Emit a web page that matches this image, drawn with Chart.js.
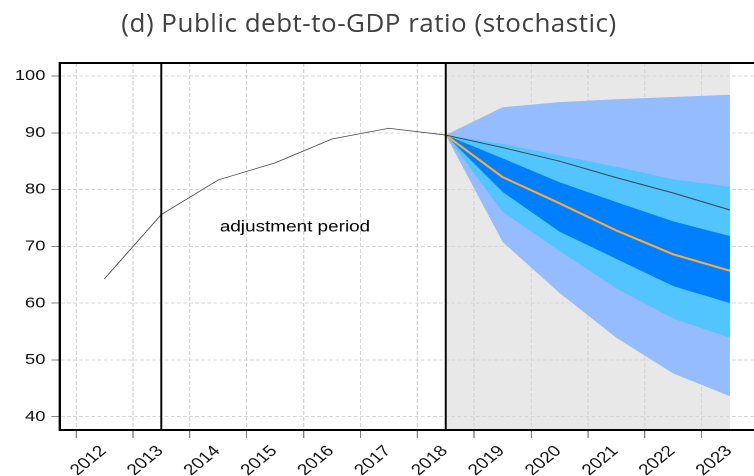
<!DOCTYPE html>
<html>
<head>
<meta charset="utf-8">
<title>Public debt-to-GDP ratio (stochastic)</title>
<script src="https://cdn.jsdelivr.net/npm/chart.js@4.4.1/dist/chart.umd.min.js"></script>
<style>
  html, body { margin: 0; padding: 0; background: #fff; overflow: hidden; }
  #page { position: relative; width: 754px; height: 476px; }
  #title {
    position: absolute; left: 0; top: 7px; width: 738px;
    font: 26px/30px "Open Sans", sans-serif; color: #404040; letter-spacing: 0.5px;
    text-align: center; white-space: nowrap; z-index: 2;
  }
  /* the plot is drawn narrow and stretched sideways, like the exported original */
  #wrap { position: absolute; left: 0; top: 0; width: 619px; height: 476px; transform: scale(1.22, 1); transform-origin: 0 0; }
</style>
</head>
<body>
<div id="page">
  <div id="wrap"><canvas id="debtChart"></canvas></div>
  <div id="title">(d) Public debt-to-GDP ratio (stochastic)</div>
</div>
<script>
// axis ticks
const years = [2012, 2013, 2014, 2015, 2016, 2017, 2018, 2019, 2020, 2021, 2022, 2023];
const yTicks = [40, 50, 60, 70, 80, 90, 100];

// observed debt ratio, % of GDP (mid-year points)
const histYears = [2012.5, 2013.5, 2014.5, 2015.5, 2016.5, 2017.5, 2018.5];
const histDebt = [64.3, 75.6, 81.7, 84.7, 88.9, 90.8, 89.6];

// projection and stochastic fan
const fcYears = [2018.5, 2019.5, 2020.5, 2021.5, 2022.5, 2023.5];
const baseline = [89.6, 87.4, 85.0, 82.1, 79.4, 76.4];
const median = [89.6, 82.2, 77.6, 72.8, 68.6, 65.7];
const outerHi = [89.6, 94.5, 95.4, 95.9, 96.3, 96.7];
const outerLo = [89.6, 70.8, 61.8, 53.9, 47.6, 43.6];
const midHi = [89.6, 88.0, 86.0, 84.0, 81.8, 80.5];
const midLo = [89.6, 76.1, 69.2, 62.6, 57.3, 53.9];
const innerHi = [89.6, 85.5, 81.3, 77.8, 74.4, 71.8];
const innerLo = [89.6, 79.6, 72.6, 67.8, 63.0, 60.0];

const adjustStart = 2013.5;
const fcStart = 2018.5;
const fcEnd = 2023.5;
const noteText = 'adjustment period';
const notePos = { x: 2015.85, y: 73.4 };

const pts = (xs, ys) => xs.map((x, i) => ({ x: x, y: ys[i] }));

const band = (data, color, order, fill) => ({
  data: pts(fcYears, data),
  borderColor: 'transparent',
  borderWidth: 0,
  backgroundColor: color,
  pointRadius: 0,
  tension: 0,
  fill: fill ? '-1' : false,
  order: order
});

// grey backdrop over the projection years, drawn under the grid
const shadePlugin = {
  id: 'shade',
  beforeDraw(chart) {
    const { ctx, chartArea: a, scales: { x } } = chart;
    const x0 = x.getPixelForValue(fcStart);
    const x1 = x.getPixelForValue(fcEnd);
    ctx.save();
    ctx.fillStyle = '#e8e8e8';
    ctx.fillRect(x0, a.top, x1 - x0, a.bottom - a.top);
    ctx.restore();
  }
};

// frame top, period separators and the label between them
const markPlugin = {
  id: 'marks',
  afterDatasetsDraw(chart) {
    const { ctx, chartArea: a, scales: { x, y } } = chart;
    ctx.save();
    ctx.strokeStyle = '#000';
    ctx.lineWidth = 2;
    ctx.beginPath();
    ctx.moveTo(a.left - 1, a.top);
    ctx.lineTo(a.right, a.top);
    ctx.stroke();
    ctx.lineWidth = 1.7;
    [adjustStart, fcStart].forEach(v => {
      const px = x.getPixelForValue(v);
      ctx.beginPath();
      ctx.moveTo(px, a.top);
      ctx.lineTo(px, a.bottom);
      ctx.stroke();
    });
    ctx.fillStyle = '#000';
    ctx.font = '15.5px "Liberation Sans", Arial, sans-serif';
    ctx.textAlign = 'center';
    ctx.textBaseline = 'middle';
    ctx.fillText(noteText, x.getPixelForValue(notePos.x), y.getPixelForValue(notePos.y));
    ctx.restore();
  }
};

new Chart(document.getElementById('debtChart'), {
  type: 'line',
  data: {
    datasets: [
      band(outerLo, '#94bcff', 6, false),
      band(outerHi, '#94bcff', 6, true),
      band(midLo, '#52c5ff', 5, false),
      band(midHi, '#52c5ff', 5, true),
      band(innerLo, '#0080ff', 4, false),
      band(innerHi, '#0080ff', 4, true),
      {
        data: pts(fcYears, median),
        borderColor: '#ffab3b',
        borderWidth: 2,
        pointRadius: 0,
        fill: false,
        order: 2
      },
      {
        data: pts(fcYears, baseline),
        borderColor: '#3c4352',
        borderWidth: 1,
        pointRadius: 0,
        fill: false,
        order: 1
      },
      {
        data: pts(histYears, histDebt),
        borderColor: '#4a4a4a',
        borderWidth: 0.8,
        pointRadius: 0,
        fill: false,
        order: 0
      }
    ]
  },
  options: {
    responsive: true,
    maintainAspectRatio: false,
    devicePixelRatio: 2,
    animation: false,
    layout: { padding: { top: 63 } },
    plugins: {
      legend: { display: false },
      tooltip: { enabled: false },
      title: { display: false }
    },
    scales: {
      x: {
        type: 'linear',
        min: 2011.719,
        max: 2023.92,
        afterBuildTicks: s => { s.ticks = years.map(v => ({ value: v })); },
        afterFit: s => { s.height = 46; s.paddingLeft = 0; s.paddingRight = 0; },
        grid: { color: '#d6d6d6', lineWidth: 1, tickLength: 8, tickColor: '#808080' },
        border: { display: true, color: '#000', width: 2, dash: [4, 2] },
        ticks: {
          minRotation: 45,
          maxRotation: 45,
          autoSkip: false,
          labelOffset: 22.5,
          padding: 4,
          color: '#111',
          font: { family: '"Liberation Sans", Arial, sans-serif', size: 15.5 },
          callback: v => String(v)
        }
      },
      y: {
        min: 37.66,
        max: 102.29,
        afterBuildTicks: s => { s.ticks = yTicks.map(v => ({ value: v })); },
        afterFit: s => { s.width = 49.2; s.paddingTop = 0; s.paddingBottom = 0; },
        grid: { color: '#d6d6d6', lineWidth: 1, tickLength: 7, tickColor: '#808080' },
        border: { display: true, color: '#000', width: 2, dash: [3, 2] },
        ticks: {
          padding: 5,
          color: '#111',
          font: { family: '"Liberation Sans", Arial, sans-serif', size: 15 }
        }
      }
    }
  },
  plugins: [shadePlugin, markPlugin]
});
</script>
</body>
</html>
